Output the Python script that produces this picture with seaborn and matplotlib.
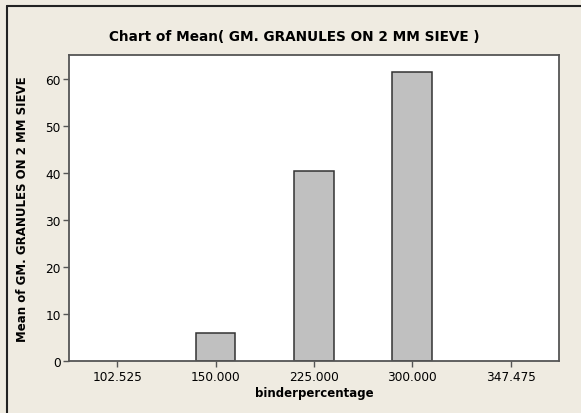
import matplotlib
matplotlib.use('Agg')
import matplotlib.pyplot as plt
import seaborn as sns
import pandas as pd
from matplotlib.lines import Line2D

# data
categories = ['102.525', '150.000', '225.000', '300.000', '347.475']
bar_groups = ['150.000', '225.000', '300.000']
bar_means = [6.1, 40.4, 61.5]
y_ticks = [0, 10, 20, 30, 40, 50, 60]

df = pd.DataFrame({'binderpercentage': bar_groups, 'mean': bar_means})

sns.set_style('white')
plt.rcParams['font.family'] = ['DejaVu Sans']
plt.rcParams['text.color'] = 'black'
plt.rcParams['axes.labelcolor'] = 'black'

bg = '#EFEBE1'
fig = plt.figure(figsize=(5.81, 4.14), dpi=100)
fig.patch.set_facecolor(bg)
fig.patch.set_edgecolor(bg)
fig.patch.set_linewidth(0)
ax = fig.add_axes([69 / 581, 1 - 362.3 / 414, (558.7 - 69) / 581, (362.3 - 55.7) / 414])
ax.set_facecolor('white')

sns.barplot(data=df, x='binderpercentage', y='mean', order=categories,
            color='#C0C0C0', saturation=1, width=0.403,
            edgecolor='#333333', linewidth=1.1, ax=ax)

ax.set_xlim(-0.49, 4.49)
ax.set_ylim(0, 65.1)
ax.set_yticks(y_ticks)
ax.set_yticklabels([str(v) for v in y_ticks])

for side in ['left', 'right', 'top', 'bottom']:
    ax.spines[side].set_visible(True)
    ax.spines[side].set_color('#555555')
    ax.spines[side].set_linewidth(1.3)

ax.tick_params(axis='both', direction='out', length=4, width=1, color='#555555',
               labelsize=8.7, labelcolor='black', pad=2,
               bottom=True, left=True)

ax.set_xlabel('binderpercentage', fontsize=8.5, fontweight='bold')
ax.set_ylabel('Mean of GM. GRANULES ON 2 MM SIEVE', fontsize=8.5, fontweight='bold')
ax.xaxis.set_label_coords(0.5, -0.081)
ax.yaxis.set_label_coords(-0.082, 0.5)

fig.text(0.507, 1 - 37 / 414, 'Chart of Mean( GM. GRANULES ON 2 MM SIEVE )',
         ha='center', va='center', fontsize=9.8, fontweight='bold')

# outer frame: only top and left edges show in the reference
fx, fy = 6.5 / 581, 1 - 6.5 / 414
fig.lines.append(Line2D([fx, 1.0], [fy, fy], transform=fig.transFigure,
                        color='#222222', linewidth=1.5))
fig.lines.append(Line2D([fx, fx], [0.0, fy], transform=fig.transFigure,
                        color='#222222', linewidth=1.5))

plt.savefig('out.png', dpi=100, facecolor=bg, edgecolor=bg)
